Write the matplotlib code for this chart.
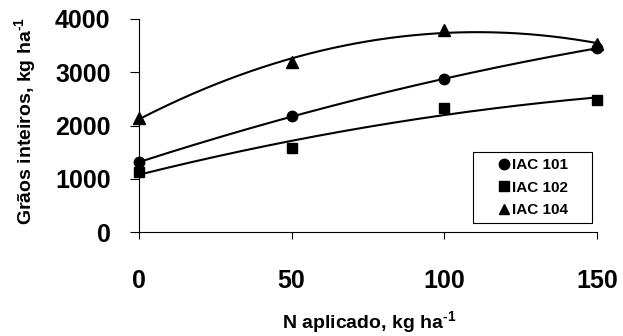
import numpy as np
import matplotlib.pyplot as plt
from matplotlib.patches import Rectangle

plt.rcParams['font.family'] = ['Liberation Sans', 'DejaVu Sans']
plt.rcParams['font.weight'] = 'bold'
plt.rcParams['mathtext.fontset'] = 'custom'
plt.rcParams['mathtext.rm'] = 'Liberation Sans:bold'
plt.rcParams['mathtext.bf'] = 'Liberation Sans:bold'
plt.rcParams['mathtext.default'] = 'bf'

# doses de N aplicado
n_aplicado = [0, 50, 100, 150]
# grãos inteiros (kg/ha) por cultivar
iac101 = [1310, 2175, 2870, 3453]
iac102 = [1122, 1573, 2336, 2481]
iac104 = [2137, 3201, 3797, 3528]

series = [('IAC 101', iac101, 'o', 7.5),
          ('IAC 102', iac102, 's', 7.5),
          ('IAC 104', iac104, '^', 8)]

fig = plt.figure(figsize=(6.23, 3.36), dpi=100)
ax = fig.add_axes([139/623, 1-232/336, (597-139)/623, (232-19)/336])

x_line = np.linspace(0, 150, 200)
for nome, y, mk, ms in series:
    z = np.polyfit(n_aplicado, y, 2)  # linha de tendência polinomial
    ax.plot(x_line, np.polyval(z, x_line), 'k-', lw=1.5, clip_on=False)
    ax.plot(n_aplicado, y, mk, color='k', ms=ms, label=nome, clip_on=False)

ax.set_xlim(0, 150)
ax.set_ylim(0, 4000)
ax.set_xticks([0, 50, 100, 150])
ax.set_yticks([0, 1000, 2000, 3000, 4000])
ax.spines['top'].set_visible(False)
ax.spines['right'].set_visible(False)
for s in ['left', 'bottom']:
    ax.spines[s].set_linewidth(0.8)
ax.tick_params(axis='x', direction='out', length=5, width=0.8, pad=22, labelsize=18)
ax.tick_params(axis='y', direction='out', length=6.5, width=0.8, pad=14, labelsize=18)
for lab in ax.get_xticklabels() + ax.get_yticklabels():
    lab.set_fontweight('bold')

ax.set_xlabel(r'N aplicado, kg ha$^{\text{-1}}$', fontsize=14, fontweight='bold')
ax.set_ylabel(r'Grãos inteiros, kg ha$^{\text{-1}}$', fontsize=14, fontweight='bold')
ax.xaxis.set_label_coords(0.502, -0.4225)
ax.yaxis.set_label_coords(-0.249, 0.52)
ax.xaxis.label.set_va('center')
ax.yaxis.label.set_va('center')

# caixa da legenda
caixa = Rectangle((473/623, 1-223/336), (592-473)/623, (223-152)/336,
                  transform=fig.transFigure, facecolor='white',
                  edgecolor='k', lw=0.8, zorder=4, clip_on=False)
ax.add_patch(caixa)
leg = ax.legend(loc='center', bbox_to_anchor=(534/623, 1-187.5/336), bbox_transform=fig.transFigure,
                frameon=False, handlelength=0.6, handletextpad=0.25,
                borderpad=0, labelspacing=0.55, borderaxespad=0,
                prop={'weight': 'bold', 'size': 11})
leg.set_zorder(5)
for h in leg.legend_handles:
    h.set_markersize(7.5)

fig.savefig('out.png', dpi=100)
